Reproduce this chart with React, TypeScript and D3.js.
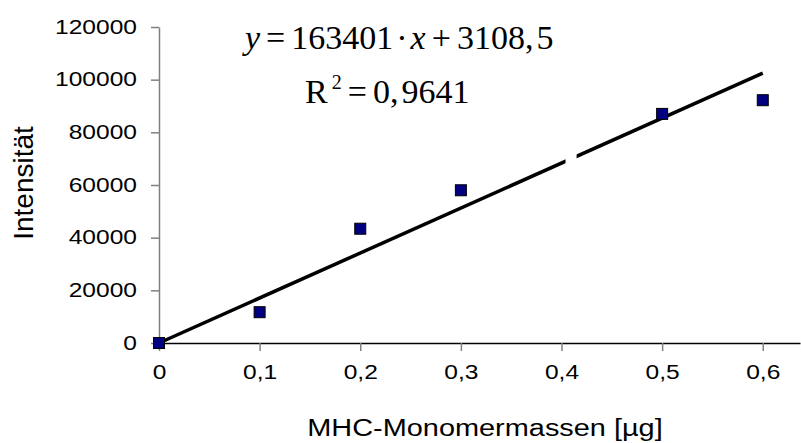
import React, { useRef, useEffect } from 'react';
import * as d3 from 'd3';

// data
const masses = [0, 0.1, 0.2, 0.3, 0.5, 0.6];
const intensities = [0, 11700, 43400, 58000, 87000, 92200];
const trendX = [0, 0.6];
const trendY = [0, 102500];
const gapX = [0.404, 0.415]; // white patch over the trend line near 0.4
const xTicks = [0, 0.1, 0.2, 0.3, 0.4, 0.5, 0.6];
const yTicks = [0, 20000, 40000, 60000, 80000, 100000, 120000];

const App = () => {
    const svgRef = useRef<SVGSVGElement>(null);

    useEffect(() => {
        const svg = d3.select(svgRef.current);
        svg.selectAll('*').remove();

        const width = 801;
        const height = 443;
        const sans = 'Liberation Sans, Arial, sans-serif';
        const serif = 'Liberation Serif, Times New Roman, serif';
        const stretch = 1.17;

        const x = d3.scaleLinear().domain([0, 0.637]).range([159, 800]);
        const y = d3.scaleLinear().domain([0, 120000]).range([343, 27]);

        svg.append('rect').attr('width', width).attr('height', height).attr('fill', 'white');

        // y axis
        const gy = svg.append('g')
            .attr('transform', `translate(${x(0)},0)`)
            .call(d3.axisLeft(y).tickValues(yTicks).tickSize(8).tickSizeOuter(0).tickFormat(d => String(d)));
        gy.select('.domain').attr('stroke', '#808080').attr('stroke-width', 1.5);
        gy.selectAll('.tick line').attr('stroke', '#808080').attr('stroke-width', 1.5);
        gy.selectAll('.tick text')
            .attr('font-family', sans).attr('font-size', 21).attr('fill', '#000')
            .attr('x', -22 / stretch).attr('dy', '0.3em')
            .attr('transform', `scale(${stretch},1)`);

        // x axis
        const gx = svg.append('g')
            .attr('transform', `translate(0,${y(0)})`)
            .call(d3.axisBottom(x).tickValues(xTicks).tickSize(8).tickSizeOuter(0)
                .tickFormat(d => String(d).replace('.', ',')));
        gx.select('.domain').attr('stroke', '#000').attr('stroke-width', 1.5);
        gx.selectAll('.tick line').attr('stroke', '#808080').attr('stroke-width', 1.5);
        gx.selectAll('.tick text')
            .attr('font-family', sans).attr('font-size', 21).attr('fill', '#000')
            .attr('y', 36).attr('dy', 0)
            .attr('transform', `scale(${stretch},1)`);

        // trend line
        const line = d3.line<number>().x(d => x(trendX[d])).y(d => y(trendY[d]));
        svg.append('path')
            .attr('d', line([0, 1]))
            .attr('stroke', '#000').attr('stroke-width', 3.5).attr('fill', 'none');

        svg.append('rect')
            .attr('x', x(gapX[0])).attr('width', x(gapX[1]) - x(gapX[0]))
            .attr('y', y(80000)).attr('height', y(60000) - y(80000))
            .attr('fill', 'white');

        // markers
        svg.append('g')
            .selectAll('rect')
            .data(masses)
            .join('rect')
            .attr('x', d => x(d) - 5.5)
            .attr('y', (d, i) => y(intensities[i]) - 5.5)
            .attr('width', 11).attr('height', 11)
            .attr('fill', '#000080').attr('stroke', '#000').attr('stroke-width', 1);

        // axis titles
        svg.append('text')
            .attr('transform', `translate(485,436) scale(${stretch},1)`)
            .attr('text-anchor', 'middle')
            .attr('font-family', sans).attr('font-size', 24.7)
            .text('MHC-Monomermassen [µg]');

        svg.append('text')
            .attr('transform', 'translate(33,183) rotate(-90)')
            .attr('text-anchor', 'middle')
            .attr('font-family', sans).attr('font-size', 28)
            .text('Intensität');

        // regression equation
        const eq = svg.append('text')
            .attr('x', 245).attr('y', 49)
            .attr('font-family', serif).attr('font-size', 34);
        eq.append('tspan').attr('font-style', 'italic').text('y');
        eq.append('tspan').attr('dx', 6).text('=');
        eq.append('tspan').attr('dx', 6).text('163401');
        eq.append('tspan').attr('dx', 3).text('·');
        eq.append('tspan').attr('dx', 3).attr('font-style', 'italic').text('x');
        eq.append('tspan').attr('dx', 6).text('+');
        eq.append('tspan').attr('dx', 6).text('3108,');
        eq.append('tspan').attr('dx', 3).text('5');

        const r2 = svg.append('text')
            .attr('x', 305).attr('y', 103)
            .attr('font-family', serif).attr('font-size', 34);
        r2.append('tspan').text('R');
        r2.append('tspan').attr('font-size', 20).attr('dy', -14).attr('dx', 4).text('2');
        r2.append('tspan').attr('dy', 14).attr('dx', 6).text('=');
        r2.append('tspan').attr('dx', 6).text('0,');
        r2.append('tspan').attr('dx', 3).text('9641');
    }, []);

    return <svg ref={svgRef} width={801} height={443} style={{ position: 'absolute', left: 0, top: 0 }}></svg>;
};

export default App;
